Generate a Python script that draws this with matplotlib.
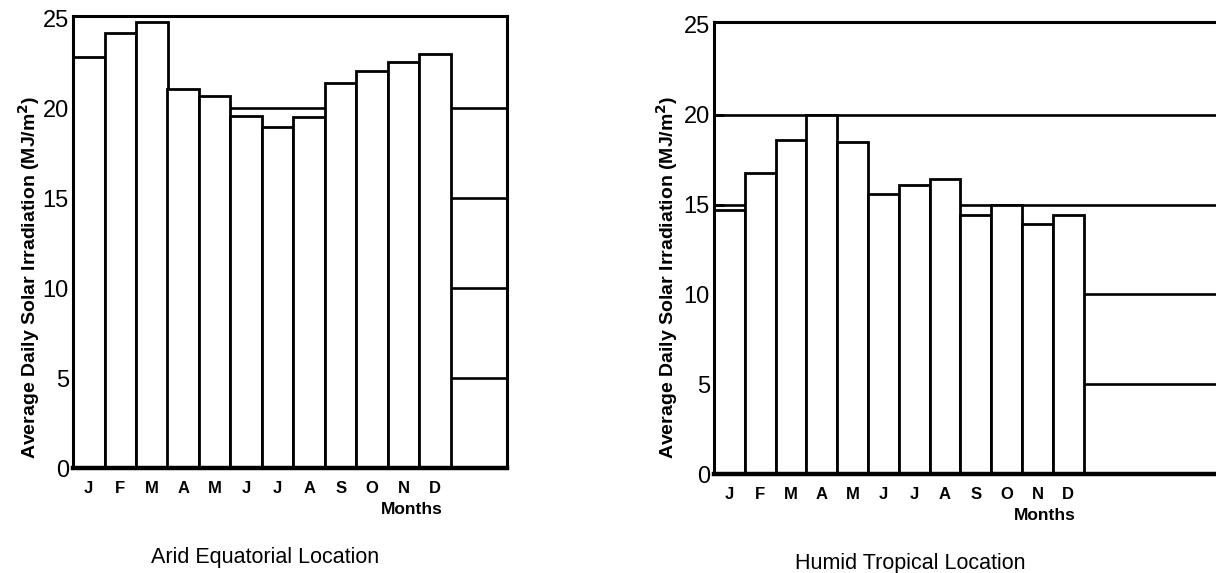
import matplotlib.pyplot as plt
from matplotlib.transforms import blended_transform_factory

months = ['J', 'F', 'M', 'A', 'M', 'J', 'J', 'A', 'S', 'O', 'N', 'D']
arid = [22.85, 24.2, 24.8, 21.05, 20.7, 19.6, 18.95, 19.5, 21.4, 22.05, 22.55, 23.0]
humid = [14.7, 16.75, 18.6, 20.0, 18.5, 15.6, 16.1, 16.4, 14.4, 15.0, 13.9, 14.4]
yticks = [0, 5, 10, 15, 20, 25]
grid_levels = [5, 10, 15, 20]
ylabel = 'Average Daily Solar Irradiation (MJ/m$^\\mathbf{2}$)'

plt.rcParams['font.family'] = ['Liberation Sans', 'DejaVu Sans']

W, H = 1216, 573
fig = plt.figure(figsize=(W / 100, H / 100), dpi=100)


def px_axes(left, top, right, bottom):
    return fig.add_axes([left / W, (H - bottom) / H, (right - left) / W, (bottom - top) / H])


def panel(ax, values, xmax, title, title_xy, ylab_xy):
    ax.set_xlim(0, xmax)
    ax.set_ylim(0, 25.15)
    for lv in grid_levels:
        ax.axhline(lv, color='black', lw=1.9, zorder=1)
    x = [i + 0.5 for i in range(len(values))]
    ax.bar(x, values, width=1.0, color='white', edgecolor='black', linewidth=2.0, zorder=2)
    for s in ax.spines.values():
        s.set_linewidth(2.2)
        s.set_zorder(3)
    ax.spines['bottom'].set_linewidth(3.2)
    ax.set_yticks(yticks)
    ax.set_yticklabels([str(v) for v in yticks], fontsize=17)
    ax.tick_params(axis='y', direction='in', length=7, width=2, pad=3)
    # no visible tick mark at 0 and 25 in the original
    for i in (0, len(yticks) - 1):
        t = ax.yaxis.get_major_ticks()[i]
        t.tick1line.set_visible(False)
    ax.set_xticks(x)
    ax.set_xticklabels(months, fontsize=12, fontweight='bold')
    ax.tick_params(axis='x', length=0, pad=9)
    tr = blended_transform_factory(ax.transData, ax.transAxes)
    ax.text(11.75, -0.09, 'Months', transform=tr, ha='right', va='center',
            fontsize=12.5, fontweight='bold')
    ax.set_ylabel(ylabel, fontsize=14, fontweight='bold', va='center')
    ax.yaxis.set_label_coords(*ylab_xy)
    fig.text(title_xy[0] / W, 1 - title_xy[1] / H, title, ha='center', va='center', fontsize=15.5)


ax1 = px_axes(73, 15.7, 507, 468.3)
panel(ax1, arid, (507 - 73) / 31.5, 'Arid Equatorial Location', (265, 557), (-0.101, 0.423))

ax2 = px_axes(714, 22, 1224, 474.3)
panel(ax2, humid, (1224 - 714) / 30.8, 'Humid Tropical Location', (910, 563), (-0.092, 0.436))

plt.savefig('out.png', dpi=100)
